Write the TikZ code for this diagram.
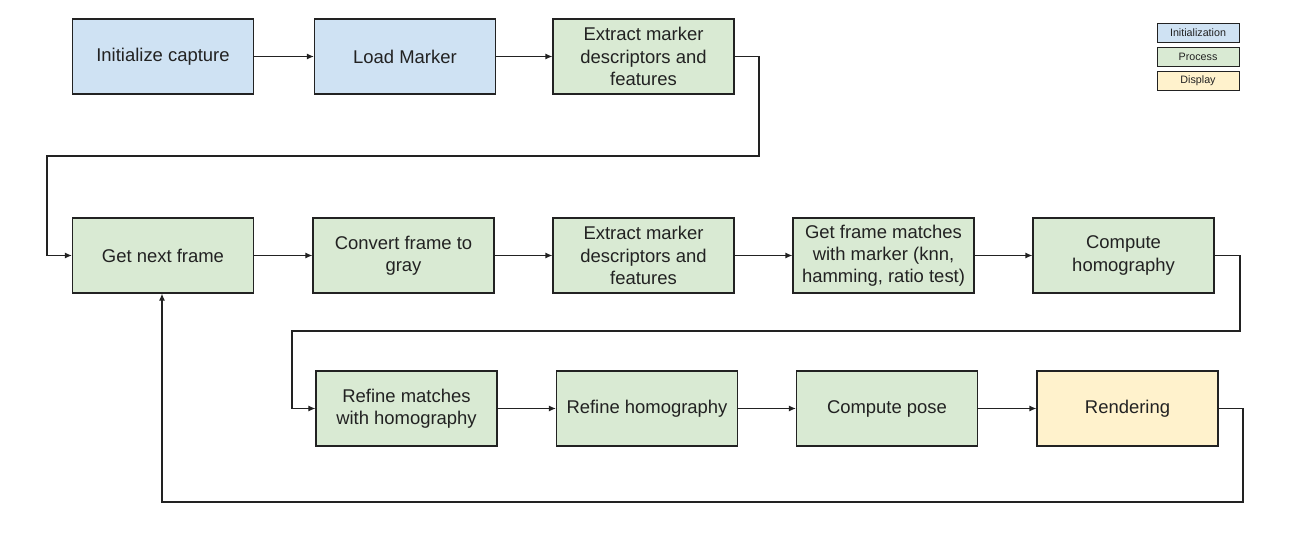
\documentclass[tikz,border=0pt]{standalone}
\usepackage{fontspec}
\setmainfont{Liberation Sans}
\usetikzlibrary{arrows.meta}
\definecolor{initblue}{HTML}{CFE2F3}
\definecolor{procgreen}{HTML}{D9EAD3}
\definecolor{dispyellow}{HTML}{FFF2CC}
\definecolor{edge}{HTML}{222222}
\begin{document}
\begin{tikzpicture}[x=0.02cm,y=-0.02cm,font=\fontsize{10.5}{12.6}\selectfont,
  stage/.style={draw=edge,line width=.7pt,minimum width=3.62cm,minimum height=1.5cm,align=center,text=edge,inner sep=2pt},
  init/.style={stage,fill=initblue},
  proc/.style={stage,fill=procgreen},
  disp/.style={stage,fill=dispyellow},
  key/.style={draw=edge,line width=.5pt,minimum width=1.64cm,minimum height=.38cm,inner sep=0pt,font=\fontsize{6.1}{7}\selectfont,text=edge},
  flow/.style={draw=edge,line width=.7pt,-{Latex[length=4pt,width=3.5pt]}}]
\useasboundingbox (0,0) rectangle (1300,540);
% first row
\node[init] (capture) at (163,56.5) {Initialize capture};
\node[init] (marker) at (405,56.5) {Load Marker};
\node[proc] (markerfeat) at (643.5,56.5) {Extract marker\\descriptors and\\features};
% second row
\node[proc] (nextframe) at (163,255.5) {Get next frame};
\node[proc] (gray) at (403.5,255.5) {Convert frame to\\gray};
\node[proc] (framefeat) at (643.5,255.5) {Extract marker\\descriptors and\\features};
\node[proc] (matches) at (883.5,255.5) {Get frame matches\\with marker (knn,\\hamming, ratio test)};
\node[proc] (homog) at (1123.5,255.5) {Compute\\homography};
% third row
\node[proc] (refine) at (406.5,408.5) {Refine matches\\with homography};
\node[proc] (refinehomog) at (647,408.5) {Refine homography};
\node[proc] (pose) at (887,408.5) {Compute pose};
\node[disp] (render) at (1127.5,408.5) {Rendering};
% legend
\node[key,fill=initblue] (keyinit) at (1198,32.5) {Initialization};
\node[key,fill=procgreen] (keyproc) at (1198,56.5) {Process};
\node[key,fill=dispyellow] (keydisp) at (1198,80.5) {Display};
% connectors
\draw[flow] (capture) -- (marker);
\draw[flow] (marker) -- (markerfeat);
\draw[flow] (markerfeat.east) -- (759,56.5) -- (759,156) -- (47,156) |- (nextframe.west);
\draw[flow] (nextframe) -- (gray);
\draw[flow] (gray) -- (framefeat);
\draw[flow] (framefeat) -- (matches);
\draw[flow] (matches) -- (homog);
\draw[flow] (homog.east) -- (1240,255.5) -- (1240,331) -- (292,331) |- (refine.west);
\draw[flow] (refine) -- (refinehomog);
\draw[flow] (refinehomog) -- (pose);
\draw[flow] (pose) -- (render);
\draw[flow] (render.east) -- (1243,408.5) -- (1243,502) -- (162,502) -- (nextframe.south -| 162,0);
\end{tikzpicture}
\end{document}
